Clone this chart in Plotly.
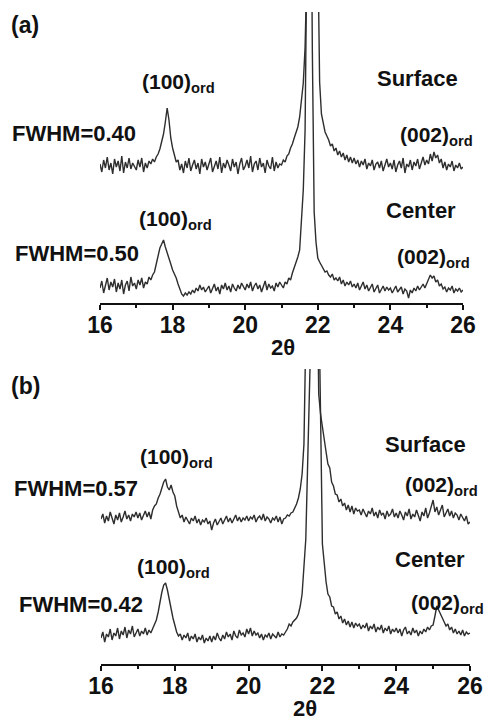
import numpy as np
import plotly.graph_objects as go

# 2-theta sampling grid (degrees), step 0.05 from 16 to 26
THETA_START, THETA_STEP, N_PTS = 16.0, 0.05, 201
two_theta = np.round(THETA_START + THETA_STEP * np.arange(N_PTS), 2)

# ---------------- Panel (a) intensities (arb. units) ----------------
a_surface = [
    18, 10, 22, 14, 25, 12, 19, 8, 23, 15, 21, 11, 26, 9, 20, 14, 24, 13, 19, 16,
    12, 22, 15, 24, 10, 19, 14, 21, 18, 23, 20, 25, 28, 33, 40, 48, 60, 74, 62, 44,
    34, 26, 20, 22, 12, 18, 9, 21, 14, 24, 11, 17, 22, 13, 19, 8, 23, 15, 20, 12,
    18, 24, 10, 16, 21, 13, 25, 9, 19, 14, 22, 17, 11, 23, 15, 20, 8, 18, 24, 12,
    16, 22, 14, 26, 10, 18, 21, 12, 24, 15, 19, 9, 22, 16, 13, 25, 11, 20, 14, 18,
    17, 22, 20, 26, 28, 34, 38, 44, 50, 55, 65, 80, 99, 135, 300, 400, 450, 450, 420, 380,
    250, 100, 68, 58, 50, 46, 42, 36, 38, 31, 34, 27, 31, 25, 29, 22, 27, 20, 25, 19,
    24, 18, 22, 15, 21, 17, 23, 13, 19, 16, 22, 12, 18, 20, 14, 21, 11, 17, 23, 15,
    19, 13, 22, 10, 17, 21, 14, 24, 9, 18, 15, 22, 12, 20, 16, 23, 13, 19, 25, 17,
    22, 18, 28, 21, 30, 24, 27, 19, 23, 14, 20, 12, 18, 15, 21, 11, 17, 14, 19, 13,
    15,
]
a_center = [
    14, 21, 9, 18, 24, 12, 20, 15, 23, 10, 19, 13, 22, 8, 17, 21, 11, 25, 16, 19,
    13, 22, 17, 24, 14, 20, 18, 25, 22, 27, 30, 38, 45, 54, 58, 62, 55, 50, 43, 38,
    32, 28, 24, 18, 12, 8, 6, 9, 7, 10, 8, 12, 9, 14, 11, 17, 12, 15, 10, 13,
    16, 9, 14, 18, 11, 15, 8, 17, 13, 19, 12, 16, 10, 18, 14, 11, 17, 13, 19, 15,
    12, 18, 14, 20, 11, 16, 19, 13, 17, 10, 15, 21, 12, 18, 14, 16, 11, 19, 15, 20,
    17, 14, 20, 18, 24, 22, 29, 34, 40, 45, 52, 77, 112, 172, 400, 550, 500, 250, 90, 60,
    44, 40, 37, 33, 30, 31, 27, 25, 28, 22, 24, 21, 25, 18, 22, 16, 20, 17, 21, 15,
    18, 14, 19, 12, 16, 20, 13, 17, 11, 15, 18, 10, 14, 17, 9, 13, 16, 11, 15, 12,
    14, 9, 13, 16, 10, 12, 15, 8, 13, 11, 4, 12, 9, 14, 11, 16, 12, 15, 18, 14,
    19, 22, 27, 24, 26, 20, 22, 16, 18, 13, 15, 10, 14, 12, 16, 9, 13, 11, 14, 10,
    12,
]

# ---------------- Panel (b) intensities (arb. units) ----------------
b_surface = [
    15, 20, 11, 18, 13, 22, 16, 10, 19, 14, 21, 12, 17, 23, 15, 19, 13, 20, 17, 22,
    16, 21, 14, 19, 23, 17, 22, 15, 24, 28, 30, 36, 40, 46, 52, 55, 47, 44, 49, 42,
    38, 28, 22, 16, 19, 12, 17, 14, 10, 16, 13, 18, 11, 15, 9, 14, 12, 16, 10, 13,
    4, 11, 15, 9, 13, 16, 10, 14, 18, 12, 16, 11, 15, 19, 13, 17, 12, 16, 14, 18,
    13, 17, 15, 19, 12, 16, 18, 14, 20, 13, 17, 15, 11, 16, 14, 18, 12, 17, 10, 15,
    16, 19, 18, 21, 22, 26, 30, 36, 45, 60, 90, 200, 350, 450, 500, 500, 480, 300, 140, 120,
    106, 92, 82, 70, 66, 52, 48, 40, 39, 32, 35, 28, 31, 24, 29, 22, 28, 20, 26, 23,
    24, 19, 25, 21, 17, 23, 20, 26, 18, 22, 16, 24, 19, 21, 15, 23, 18, 20, 25, 17,
    21, 16, 23, 19, 14, 22, 18, 25, 15, 20, 17, 24, 19, 13, 22, 18, 26, 16, 21, 28,
    34, 22, 27, 19, 24, 29, 17, 22, 25, 18, 23, 16, 21, 19, 14, 20, 17, 13, 18, 10,
    12,
]
b_center = [
    26, 32, 22, 30, 27, 35, 24, 31, 28, 36, 25, 33, 29, 37, 26, 34, 30, 38, 27, 32,
    35, 28, 33, 30, 36, 29, 34, 31, 35, 40, 44, 52, 64, 72, 79, 81, 74, 64, 54, 46,
    39, 32, 28, 30, 24, 29, 26, 31, 23, 28, 25, 30, 22, 27, 24, 29, 21, 26, 23, 28,
    22, 28, 24, 31, 26, 23, 29, 25, 32, 27, 30, 24, 33, 28, 26, 34, 29, 31, 27, 35,
    30, 36, 28, 33, 29, 31, 26, 30, 24, 29, 27, 31, 25, 30, 28, 26, 32, 27, 30, 29,
    32, 35, 40, 38, 42, 44, 46, 50, 58, 70, 95, 125, 200, 400, 500, 500, 500, 500, 350, 250,
    120, 100, 82, 70, 67, 58, 57, 50, 52, 45, 48, 41, 45, 39, 43, 37, 42, 36, 41, 38,
    40, 35, 39, 36, 41, 33, 38, 35, 40, 32, 37, 34, 39, 31, 36, 33, 38, 30, 35, 32,
    36, 31, 35, 28, 34, 37, 30, 33, 29, 36, 31, 34, 28, 33, 30, 35, 32, 37, 34, 38,
    39, 48, 58, 54, 50, 45, 42, 38, 40, 34, 37, 31, 35, 30, 33, 29, 34, 28, 32, 30,
    31,
]

# vertical stacking offsets
A_SURF_OFFSET = 120
B_SURF_OFFSET = 130

tick_vals = [16, 18, 20, 22, 24, 26]
tick_text = ["16", "18", "20", "22", "24", "26"]

W, H = 487, 722
FONT = "Liberation Sans, Arial, sans-serif"
LINE = dict(color="#2e2e2e", width=1.4)


def px(x):
    return x / W


def py(y):
    return 1 - y / H


fig = go.Figure()
fig.add_trace(go.Scatter(x=two_theta, y=np.array(a_surface) + A_SURF_OFFSET, mode="lines",
                         line=LINE, xaxis="x", yaxis="y", showlegend=False, hoverinfo="skip"))
fig.add_trace(go.Scatter(x=two_theta, y=a_center, mode="lines",
                         line=LINE, xaxis="x", yaxis="y", showlegend=False, hoverinfo="skip"))
fig.add_trace(go.Scatter(x=two_theta, y=np.array(b_surface) + B_SURF_OFFSET, mode="lines",
                         line=LINE, xaxis="x2", yaxis="y2", showlegend=False, hoverinfo="skip"))
fig.add_trace(go.Scatter(x=two_theta, y=b_center, mode="lines",
                         line=LINE, xaxis="x2", yaxis="y2", showlegend=False, hoverinfo="skip"))

xcommon = dict(range=[16, 26], tickvals=tick_vals, ticktext=tick_text, automargin=False,
               ticks="outside", ticklen=5, tickwidth=2, tickcolor="#111",
               ticklabelstandoff=-5,
               showline=True, linewidth=2, linecolor="#111", showgrid=False,
               zeroline=False, tickfont=dict(family=FONT, size=23, color="#111", weight="bold"),
               minor=dict(dtick=1, tick0=16, ticks="outside", ticklen=3, tickwidth=2,
                          tickcolor="#111", showgrid=False))
ycommon = dict(visible=False, showgrid=False, zeroline=False, automargin=False)

fig.update_layout(
    template="none",
    width=W, height=H, autosize=False,
    margin=dict(l=0, r=0, t=0, b=0, pad=0, autoexpand=False),
    paper_bgcolor="white", plot_bgcolor="white",
    hovermode=False,
    xaxis=dict(domain=[px(100), px(463)], anchor="y", **xcommon),
    yaxis=dict(domain=[py(303), py(12)], range=[-1, 290], anchor="x", **ycommon),
    xaxis2=dict(domain=[px(101), px(470)], anchor="y2", **xcommon),
    yaxis2=dict(domain=[py(664), py(369)], range=[0, 295], anchor="x2", **ycommon),
)


def label(text, x, y, size=21, xanchor="left", yanchor="middle"):
    fig.add_annotation(text=text, x=px(x), y=py(y), xref="paper", yref="paper",
                       xanchor=xanchor, yanchor=yanchor, showarrow=False,
                       font=dict(family=FONT, size=size, color="#111", weight="bold"))


SUB = "(%s)<sub>ord</sub>"
# panel (a)
label("(a)", 9, 25, size=23)
label(SUB % "100", 140, 68, yanchor="top")
label("Surface", 460, 79, xanchor="right", size=22)
label("FWHM=0.40", 10, 133, size=22)
label(SUB % "002", 398, 121, yanchor="top")
label(SUB % "100", 137, 205, yanchor="top")
label("Center", 458, 210, xanchor="right", size=22)
label("FWHM=0.50", 13, 254, size=22)
label(SUB % "002", 395, 243, yanchor="top")
label("2θ", 283, 347, xanchor="center", size=22)
# panel (b)
label("(b)", 9, 386, size=23)
label(SUB % "100", 138, 443, yanchor="top")
label("Surface", 468, 444, xanchor="right", size=22)
label("FWHM=0.57", 12, 488, size=22)
label(SUB % "002", 403, 471, yanchor="top")
label(SUB % "100", 135, 553, yanchor="top")
label("Center", 467, 559, xanchor="right", size=22)
label("FWHM=0.42", 17, 604, size=22)
label(SUB % "002", 409, 589, yanchor="top")
label("2θ", 305, 708, xanchor="center", size=22)

fig.write_html("out.html", config={"displayModeBar": False, "staticPlot": True},
               post_script="document.body.style.margin='0';")
